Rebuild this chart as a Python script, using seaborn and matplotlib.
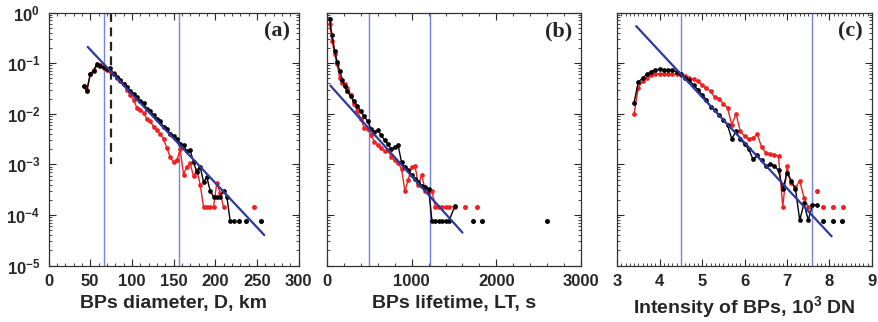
import matplotlib
matplotlib.use('Agg')
import matplotlib.pyplot as plt
from matplotlib.ticker import AutoMinorLocator, MultipleLocator, LogLocator, NullFormatter
import seaborn as sns

# ---- panel (a): BP diameter ----
a_x = [42, 46, 50, 54, 58, 62, 66, 70, 74, 78, 82, 86, 90, 94, 98, 102, 106, 110,
       114, 118, 122, 126, 130, 134, 138, 142, 146, 150, 154, 158, 162, 166, 170,
       174, 178, 182, 186, 190, 194, 198, 202, 206, 210, 214, 218, 222]
a_black = [0.035, 0.028, 0.060, 0.071, 0.095, 0.089, 0.083, 0.076, 0.079, 0.060,
           0.053, 0.047, 0.038, 0.034, 0.028, 0.025, 0.021, 0.018, 0.016, 0.0126,
           0.0112, 0.0095, 0.0079, 0.0071, 0.0056, 0.0050, 0.0040, 0.0037, 0.0032,
           0.0025, 0.0024, 0.0018, 0.0019, 0.0011, 7.1e-4, 9.0e-4, 4.5e-4, 5.6e-4,
           3.0e-4, 2.3e-4, 2.3e-4, 2.3e-4, 3.0e-4, 2.3e-4, 7.6e-5, 7.6e-5]
a_red = [0.036, 0.030, 0.060, 0.072, 0.092, 0.090, 0.082, 0.075, 0.071, 0.063,
         0.052, 0.045, 0.038, 0.030, 0.024, 0.019, 0.0132, 0.0120, 0.0105, 0.0079,
         0.0071, 0.0056, 0.0048, 0.0040, 0.0032, 0.0021, 0.0014, 0.0011, 0.0012,
         0.0020, 6.3e-4, 8.9e-4, 0.00105, 5.8e-4, 7.9e-4, 4.0e-4, 1.45e-4, 1.45e-4,
         1.45e-4, 1.45e-4, 4.3e-4, 2.7e-4, 1.45e-4]
a_black_tail_x = [229, 237, 255]
a_black_tail_y = [7.6e-5, 7.6e-5, 7.6e-5]
a_red_tail_x = [246]
a_red_tail_y = [1.45e-4]
a_fit_x = [47, 259]
a_fit_y = [0.21, 4.0e-5]
a_vlines = [66, 157]
a_dash_x = [75, 75]
a_dash_y = [1.0, 1.0e-3]

# ---- panel (b): BP lifetime ----
b_x = [30, 60, 90, 120, 150, 180, 210, 240, 280, 320, 360, 400, 440, 480, 520,
       560, 600, 640, 680, 720, 760, 800, 840, 880, 920, 960, 1000, 1040, 1080,
       1120, 1160, 1200, 1240, 1280, 1320, 1360, 1400, 1440, 1510]
b_black = [0.76, 0.355, 0.178, 0.105, 0.071, 0.047, 0.035, 0.028, 0.022, 0.0178,
           0.0141, 0.0112, 0.0089, 0.0071, 0.0050, 0.0044, 0.0047, 0.0038, 0.0030,
           0.0025, 0.0020, 0.0022, 0.0024, 0.0011, 8.9e-4, 7.6e-4, 6.3e-4, 5.2e-4,
           4.5e-4, 3.8e-4, 3.5e-4, 3.2e-4, 7.6e-5, 7.6e-5, 7.6e-5, 7.6e-5, 7.6e-5,
           7.6e-5, 1.5e-4]
b_red = [0.60, 0.28, 0.15, 0.095, 0.050, 0.040, 0.038, 0.033, 0.024, 0.0158,
         0.0112, 0.0079, 0.0052, 0.0050, 0.0038, 0.0028, 0.0024, 0.0021, 0.0018,
         0.0019, 0.0014, 0.0012, 0.00105, 8.3e-4, 2.95e-4, 5.0e-4, 9.0e-4, 9.1e-4,
         4.0e-4, 6.3e-4, 2.95e-4, 2.95e-4, 2.95e-4, 1.45e-4, 1.45e-4, 1.45e-4,
         1.45e-4, 1.45e-4, 1.45e-4]
b_black_tail_x = [1727, 1826, 2593]
b_black_tail_y = [7.6e-5, 7.6e-5, 7.6e-5]
b_red_tail_x = [1630, 1767]
b_red_tail_y = [1.45e-4, 1.45e-4]
b_fit_x = [40, 1600]
b_fit_y = [0.036, 4.5e-5]
b_vlines = [500, 1220]

# ---- panel (c): BP intensity ----
c_x = [3.4, 3.5, 3.6, 3.7, 3.8, 3.9, 4.0, 4.1, 4.2, 4.3, 4.4, 4.5, 4.6, 4.7, 4.8,
       4.9, 5.0, 5.1, 5.2, 5.3, 5.4, 5.5, 5.6, 5.7, 5.8, 5.9, 6.0, 6.1, 6.2, 6.3,
       6.4, 6.5, 6.6, 6.7, 6.8, 6.9, 7.0, 7.1, 7.2, 7.3, 7.4, 7.5, 7.6, 7.7]
c_black = [0.0166, 0.042, 0.051, 0.060, 0.068, 0.074, 0.076, 0.074, 0.074, 0.072,
           0.068, 0.060, 0.052, 0.046, 0.037, 0.030, 0.024, 0.019, 0.0138, 0.0120,
           0.0095, 0.0076, 0.0060, 0.0032, 0.0045, 0.0032, 0.0025, 0.0020, 0.00126,
           0.0015, 0.0012, 9.1e-4, 1.0e-3, 9.5e-4, 7.6e-4, 3.2e-4, 6.8e-4, 4.7e-4,
           3.2e-4, 7.9e-5, 1.7e-4, 7.9e-5, 1.6e-4, 1.6e-4]
c_red = [0.0098, 0.033, 0.044, 0.052, 0.059, 0.062, 0.062, 0.062, 0.062, 0.062,
         0.060, 0.059, 0.056, 0.051, 0.048, 0.044, 0.037, 0.032, 0.028, 0.021,
         0.020, 0.0158, 0.0132, 0.0060, 0.0100, 0.0045, 0.0036, 0.0032, 0.0033,
         0.0040, 0.0022, 0.0017, 0.0016, 0.00155, 0.00145, 1.45e-4, 9.1e-4, 4.3e-4,
         3.5e-4, 4.7e-4, 2.2e-4, 1.45e-4]
c_black_tail_x = [7.85, 8.08, 8.29]
c_black_tail_y = [7.6e-5, 7.6e-5, 7.6e-5]
c_red_tail_x = [7.70, 7.85, 8.08, 8.32]
c_red_tail_y = [2.95e-4, 1.45e-4, 1.45e-4, 1.45e-4]
c_fit_x = [3.45, 8.05]
c_fit_y = [0.54, 3.8e-5]
c_vlines = [4.5, 7.58]

sns.set_style('ticks')
plt.rcParams['font.family'] = ['Liberation Sans', 'DejaVu Sans']
plt.rcParams['font.weight'] = 'bold'
plt.rcParams['mathtext.fontset'] = 'custom'
plt.rcParams['mathtext.rm'] = 'Liberation Sans:bold'
plt.rcParams['mathtext.bf'] = 'Liberation Sans:bold'
plt.rcParams['mathtext.default'] = 'bf'

RED = '#ee2020'
FIT = '#2c3aa0'
VLINE = '#7482e0'

fig = plt.figure(figsize=(8.79, 3.22), dpi=100)
bottom, height = 0.175, 0.786
ax_a = fig.add_axes([0.0552, bottom, 0.2844, height])
ax_b = fig.add_axes([0.372, bottom, 0.289, height])
ax_c = fig.add_axes([0.702, bottom, 0.290, height])

panels = [
    (ax_a, a_x, a_black, a_red, a_black_tail_x, a_black_tail_y, a_red_tail_x, a_red_tail_y,
     a_fit_x, a_fit_y, a_vlines, (0, 300), 50, 5, 'BPs diameter, D, km', '(a)'),
    (ax_b, b_x, b_black, b_red, b_black_tail_x, b_black_tail_y, b_red_tail_x, b_red_tail_y,
     b_fit_x, b_fit_y, b_vlines, (0, 3000), 1000, 5, 'BPs lifetime, LT, s', '(b)'),
    (ax_c, c_x, c_black, c_red, c_black_tail_x, c_black_tail_y, c_red_tail_x, c_red_tail_y,
     c_fit_x, c_fit_y, c_vlines, (3, 9), 1, 10, 'Intensity of BPs, 10$^3$ DN', '(c)'),
]

for i, (ax, x, yk, yr, bkx, bky, rdx, rdy, fx, fy, vl, xlim, major, nminor, xlabel, tag) in enumerate(panels):
    for v in vl:
        ax.axvline(v, color=VLINE, lw=1.0, zorder=1)
    sns.lineplot(x=x[:len(yr)], y=yr, ax=ax, color=RED, marker='o', markersize=3.4,
                 markeredgewidth=0, linewidth=1.0, estimator=None, sort=False, zorder=3)
    sns.lineplot(x=x[:len(yk)], y=yk, ax=ax, color='black', marker='o', markersize=3.4,
                 markeredgewidth=0, linewidth=1.0, estimator=None, sort=False, zorder=4)
    sns.scatterplot(x=rdx, y=rdy, ax=ax, color=RED, s=13, linewidth=0, zorder=3)
    sns.scatterplot(x=bkx, y=bky, ax=ax, color='black', s=13, linewidth=0, zorder=4)
    sns.lineplot(x=fx, y=fy, ax=ax, color=FIT, linewidth=1.6, estimator=None, sort=False, zorder=5)

    ax.set_yscale('log')
    ax.set_ylim(1e-5, 1)
    ax.set_xlim(*xlim)
    ax.xaxis.set_major_locator(MultipleLocator(major))
    ax.xaxis.set_minor_locator(AutoMinorLocator(nminor))
    ax.yaxis.set_major_locator(LogLocator(base=10, numticks=10))
    ax.yaxis.set_minor_locator(LogLocator(base=10, subs=range(2, 10), numticks=10))
    ax.yaxis.set_minor_formatter(NullFormatter())
    ax.tick_params(which='both', direction='in', top=True, right=True, labelsize=12, pad=6)
    ax.tick_params(which='major', length=5, width=0.8)
    ax.tick_params(which='minor', length=2.5, width=0.6)
    for sp in ax.spines.values():
        sp.set_linewidth(0.9)
        sp.set_color('#333333')
    ax.set_xlabel(xlabel, fontsize=14, fontweight='bold', labelpad=4)
    ax.set_ylabel('')
    if i > 0:
        ax.set_yticklabels([])
    ax.text(0.965, 0.925, tag, transform=ax.transAxes, ha='right', va='center',
            fontsize=16, fontweight='bold', family='Liberation Serif')

ax_a.plot(a_dash_x, a_dash_y, color='#222222', lw=1.6, ls=(0, (4, 2.5)), zorder=2)

fig.savefig('out.png', dpi=100)
